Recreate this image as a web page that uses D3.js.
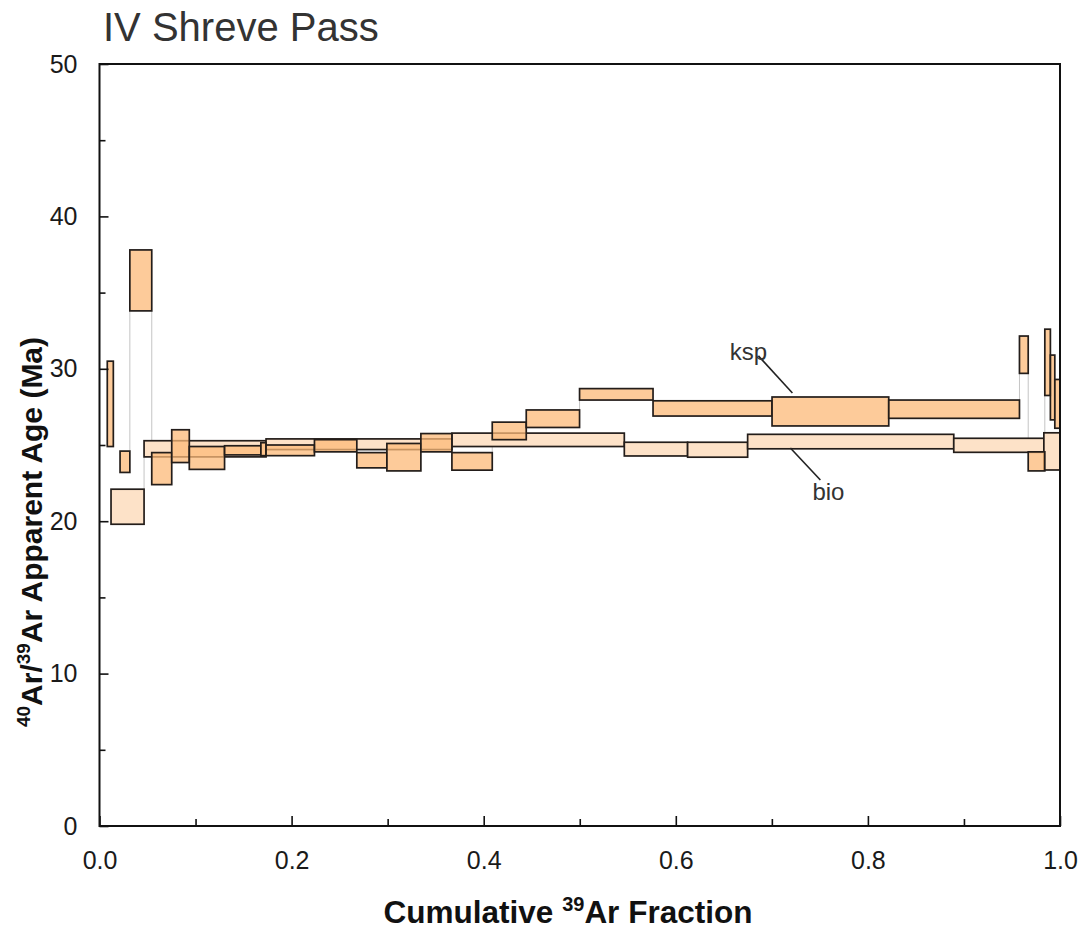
<!DOCTYPE html>
<html>
<head>
<meta charset="utf-8">
<script src="https://cdn.jsdelivr.net/npm/d3@7"></script>
<style>
  html, body { margin: 0; padding: 0; background: #fff; }
  svg { display: block; }
  text { font-family: "Liberation Sans", Arial, Helvetica, sans-serif; }
</style>
</head>
<body>
<svg id="chart" width="1088" height="937"></svg>
<script>
// K-feldspar (ksp) heating steps: cumulative 39Ar fraction span and age envelope (Ma)
const kspFrom = [0.0081, 0.0214, 0.0316, 0.0544, 0.0752, 0.0935, 0.1302, 0.1680, 0.1734, 0.2238, 0.2679, 0.2992, 0.3346, 0.3669, 0.4089, 0.4443, 0.4998, 0.5763, 0.7002, 0.8217, 0.9578, 0.9669, 0.9842, 0.9900, 0.9946];
const kspTo   = [0.0144, 0.0316, 0.0544, 0.0752, 0.0935, 0.1302, 0.1680, 0.1734, 0.2238, 0.2679, 0.2992, 0.3346, 0.3669, 0.4089, 0.4443, 0.4998, 0.5763, 0.7002, 0.8217, 0.9578, 0.9669, 0.9842, 0.9900, 0.9946, 1.0000];
const kspLow  = [24.9, 23.2, 33.8, 22.4, 23.85, 23.4, 24.35, 24.3, 24.3, 24.55, 23.5, 23.3, 24.55, 23.35, 25.35, 26.15, 27.95, 26.9, 26.25, 26.75, 29.7, 23.3, 28.25, 26.65, 26.1];
const kspHigh = [30.5, 24.6, 37.8, 24.5, 26.0, 24.9, 24.95, 25.15, 25.0, 25.35, 24.5, 25.1, 25.75, 24.5, 26.5, 27.3, 28.7, 27.9, 28.15, 27.95, 32.15, 24.55, 32.6, 30.9, 29.3];

// Biotite (bio) heating steps
const bioFrom = [0.0120, 0.0464, 0.1734, 0.3669, 0.5464, 0.6123, 0.6748, 0.8894, 0.9832];
const bioTo   = [0.0464, 0.1734, 0.3669, 0.5464, 0.6123, 0.6748, 0.8894, 0.9832, 1.0000];
const bioLow  = [19.8, 24.22, 24.7, 24.9, 24.28, 24.2, 24.75, 24.52, 23.36];
const bioHigh = [22.1, 25.28, 25.4, 25.78, 25.18, 25.18, 25.7, 25.44, 25.8];

// Axis ticks
const xMajorTicks = [0, 0.2, 0.4, 0.6, 0.8, 1.0];
const xMinorTicks = [0.1, 0.3, 0.5, 0.7, 0.9];
const yMajorTicks = [0, 10, 20, 30, 40, 50];
const yMinorTicks = [5, 15, 25, 35, 45];

// Spectrum labels with leader lines
const labelNames = ["ksp", "bio"];
const labelPos   = [[0.6755, 30.6], [0.7589, 21.4]];
const leaderFrom = [[0.686, 30.85], [0.7193, 24.8]];
const leaderTo   = [[0.7214, 28.41], [0.7505, 22.7]];

const svg = d3.select("#chart");
const x = d3.scaleLinear().domain([0, 1]).range([99.5, 1060]);
const y = d3.scaleLinear().domain([0, 50]).range([826, 64]);

function steps(from, to, lo, hi) {
  return from.map((f, i) => ({ x0: f, x1: to[i], lo: lo[i], hi: hi[i] }));
}
const ksp = steps(kspFrom, kspTo, kspLow, kspHigh);
const bio = steps(bioFrom, bioTo, bioLow, bioHigh);

// Thin connectors between adjacent steps that do not overlap in age
function connectors(data) {
  const out = [];
  for (let i = 0; i < data.length - 1; i++) {
    const a = data[i], b = data[i + 1];
    if (Math.abs(a.x1 - b.x0) > 1e-6) continue;
    if (a.hi < b.lo) out.push({ x: a.x1, y0: a.hi, y1: b.lo });
    else if (b.hi < a.lo) out.push({ x: a.x1, y0: b.hi, y1: a.lo });
  }
  return out;
}

const plot = svg.append("g");

function drawConnectors(data) {
  plot.append("g").selectAll("line").data(connectors(data)).join("line")
    .attr("x1", d => x(d.x)).attr("x2", d => x(d.x))
    .attr("y1", d => y(d.y0)).attr("y2", d => y(d.y1))
    .attr("stroke", "#c4c4c4").attr("stroke-width", 1);
}
drawConnectors(bio);
drawConnectors(ksp);

// Biotite boxes
plot.append("g").selectAll("rect").data(bio).join("rect")
  .attr("x", d => x(d.x0)).attr("width", d => x(d.x1) - x(d.x0))
  .attr("y", d => y(d.hi)).attr("height", d => y(d.lo) - y(d.hi))
  .attr("fill", "#fde2c8")
  .attr("stroke", "#231d1a").attr("stroke-width", 1.7);

// K-feldspar boxes
plot.append("g").selectAll("rect").data(ksp).join("rect")
  .attr("x", d => x(d.x0)).attr("width", d => x(d.x1) - x(d.x0))
  .attr("y", d => y(d.hi)).attr("height", d => y(d.lo) - y(d.hi))
  .attr("fill", "#fcb978").attr("fill-opacity", 0.75)
  .attr("stroke", "#231d1a").attr("stroke-width", 1.7);

// Labels
labelNames.forEach((name, i) => {
  plot.append("line")
    .attr("x1", x(leaderFrom[i][0])).attr("y1", y(leaderFrom[i][1]))
    .attr("x2", x(leaderTo[i][0])).attr("y2", y(leaderTo[i][1]))
    .attr("stroke", "#222").attr("stroke-width", 1.6);
  plot.append("text")
    .attr("x", x(labelPos[i][0])).attr("y", y(labelPos[i][1]))
    .attr("text-anchor", "middle")
    .attr("font-size", 24).attr("fill", "#333")
    .text(name);
});

// Axes
function styleAxis(g) {
  g.select(".domain").remove();
  g.selectAll(".tick line").attr("stroke", "#111").attr("stroke-width", 1.6);
  g.selectAll(".tick text").attr("font-size", 25).attr("fill", "#1a1a1a")
    .attr("font-family", "Liberation Sans, Arial, sans-serif");
}

svg.append("g").attr("transform", "translate(0,826)")
  .call(d3.axisBottom(x).tickValues(xMajorTicks).tickFormat(d3.format(".1f"))
    .tickSizeInner(-10).tickSizeOuter(0).tickPadding(25))
  .call(styleAxis);
svg.append("g").attr("transform", "translate(0,826)")
  .call(d3.axisBottom(x).tickValues(xMinorTicks).tickFormat("")
    .tickSizeInner(-7).tickSizeOuter(0))
  .call(styleAxis);

svg.append("g").attr("transform", "translate(99.5,0)")
  .call(d3.axisLeft(y).tickValues(yMajorTicks).tickFormat(d3.format("d"))
    .tickSizeInner(-9).tickSizeOuter(0).tickPadding(22))
  .call(styleAxis);
svg.append("g").attr("transform", "translate(99.5,0)")
  .call(d3.axisLeft(y).tickValues(yMinorTicks).tickFormat("")
    .tickSizeInner(-6).tickSizeOuter(0))
  .call(styleAxis);

// Plot frame
svg.append("rect")
  .attr("x", x(0)).attr("y", y(50))
  .attr("width", x(1) - x(0)).attr("height", y(0) - y(50))
  .attr("fill", "none").attr("stroke", "#111").attr("stroke-width", 2);

// Title
svg.append("text")
  .attr("x", 103).attr("y", 41)
  .attr("font-size", 40).attr("fill", "#333")
  .text("IV Shreve Pass");

// X axis title
const xt = svg.append("text")
  .attr("x", 568).attr("y", 923)
  .attr("text-anchor", "middle")
  .attr("font-size", 31.5).attr("font-weight", "bold").attr("fill", "#111");
xt.append("tspan").text("Cumulative ");
xt.append("tspan").attr("font-size", 20).attr("dy", -12).text("39");
xt.append("tspan").attr("dy", 12).text("Ar Fraction");

// Y axis title
const yt = svg.append("text")
  .attr("transform", "translate(42,532) rotate(-90)")
  .attr("text-anchor", "middle")
  .attr("font-size", 30).attr("font-weight", "bold").attr("fill", "#111");
yt.append("tspan").attr("font-size", 19).attr("dy", -12).text("40");
yt.append("tspan").attr("dy", 12).text("Ar/");
yt.append("tspan").attr("font-size", 19).attr("dy", -12).text("39");
yt.append("tspan").attr("dy", 12).text("Ar Apparent Age (Ma)");
</script>
</body>
</html>
